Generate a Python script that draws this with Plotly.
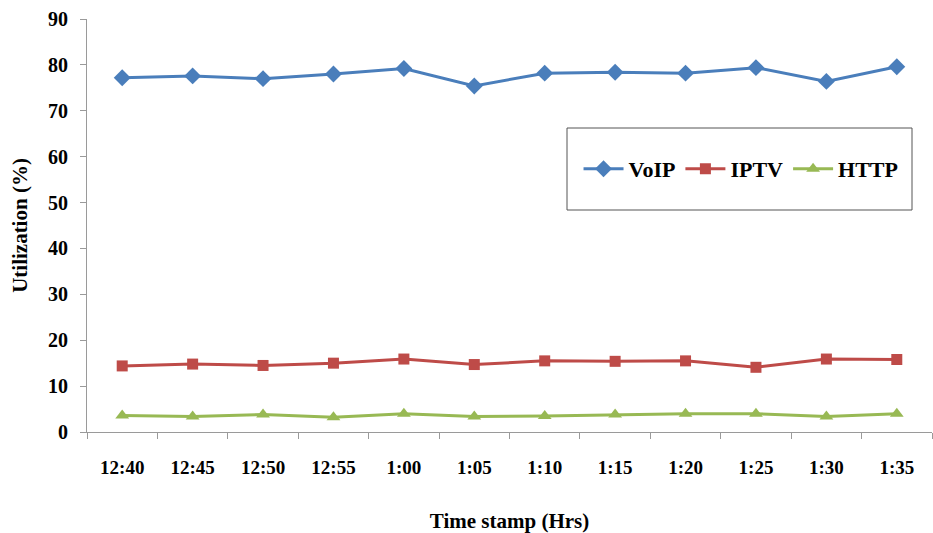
import plotly.graph_objects as go

times = ["12:40", "12:45", "12:50", "12:55", "1:00", "1:05", "1:10", "1:15", "1:20", "1:25", "1:30", "1:35"]
voip = [77.2, 77.6, 77.0, 78.0, 79.2, 75.4, 78.2, 78.4, 78.2, 79.4, 76.4, 79.6]
iptv = [14.4, 14.8, 14.5, 15.0, 15.9, 14.7, 15.5, 15.4, 15.5, 14.1, 15.9, 15.8]
http = [3.6, 3.4, 3.8, 3.2, 4.0, 3.4, 3.5, 3.8, 4.0, 4.0, 3.4, 4.0]

FONT = "Liberation Serif, Times New Roman, serif"

fig = go.Figure()
fig.add_trace(go.Scatter(x=times, y=voip, name="<b>VoIP</b>", mode="lines+markers",
                         line=dict(color="#4A7EBB", width=3),
                         marker=dict(symbol="diamond", size=13, color="#4A7EBB")))
fig.add_trace(go.Scatter(x=times, y=iptv, name="<b>IPTV</b>", mode="lines+markers",
                         line=dict(color="#BE4B48", width=3),
                         marker=dict(symbol="square", size=11, color="#BE4B48")))
fig.add_trace(go.Scatter(x=times, y=http, name="<b>HTTP</b>", mode="lines+markers",
                         line=dict(color="#98B954", width=3),
                         marker=dict(symbol="triangle-up", size=12, color="#98B954")))

fig.update_layout(
    width=933, height=533,
    margin=dict(l=87, r=1, t=19, b=101),
    paper_bgcolor="white", plot_bgcolor="white",
    font=dict(family=FONT, color="black"),
    showlegend=True,
    legend=dict(orientation="h", x=0.774, y=0.637, xanchor="center", yanchor="middle",
                bgcolor="rgba(0,0,0,0)", borderwidth=0,
                font=dict(family=FONT, size=22, color="black"),
                itemwidth=40),
    shapes=[dict(type="rect", xref="paper", yref="paper",
                 x0=(567 - 87) / 845, x1=(912 - 87) / 845,
                 y0=(432 - 210) / 413, y1=(432 - 128) / 413,
                 line=dict(color="#555555", width=1), fillcolor="white", layer="below")],
)
fig.update_xaxes(
    type="category", range=[-0.5, 11.5], tickson="boundaries",
    showline=True, linecolor="#9A9A9A", linewidth=1,
    ticks="outside", ticklen=6, tickcolor="#9A9A9A",
    showgrid=False, zeroline=False,
    tickfont=dict(family=FONT, size=19, color="black"),
    tickprefix="<b>", ticksuffix="</b>", ticklabelstandoff=18,
    title=dict(text="<b>Time stamp (Hrs)</b>", font=dict(family=FONT, size=21, color="black"), standoff=38),
)
fig.update_yaxes(
    range=[0, 90], dtick=10,
    showline=True, linecolor="#9A9A9A", linewidth=1,
    ticks="outside", ticklen=6, tickcolor="#9A9A9A",
    showgrid=False, zeroline=False,
    tickfont=dict(family=FONT, size=20, color="black"),
    tickprefix="<b>", ticksuffix="</b>", ticklabelstandoff=8,
    title=dict(text="<b>Utilization (%)</b>", font=dict(family=FONT, size=21, color="black"), standoff=14),
)

fig.write_html("out.html")
